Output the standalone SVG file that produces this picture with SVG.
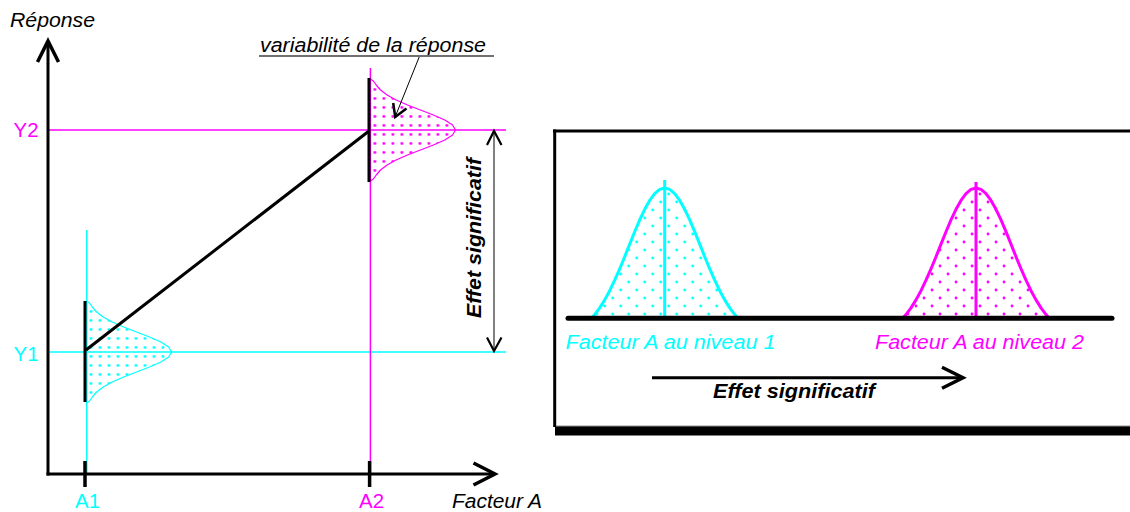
<svg xmlns="http://www.w3.org/2000/svg" width="1130" height="512" viewBox="0 0 1130 512">
<style>
  text { font-family: "Liberation Sans", Arial, sans-serif; font-size: 20.5px; }
  .it { font-style: italic; }
  .bi { font-style: italic; font-weight: bold; }
  .cy { fill: #00FFFF; }
  .mg { fill: #FF00FF; }
  .blk { fill: #000; }
  .thin { fill: none; stroke-width: 1.5; }
  .bar { stroke: #000; stroke-width: 3; fill: none; }
  .head { fill: none; stroke: #000; stroke-linecap: butt; stroke-linejoin: miter; }
</style>
<defs>
  <pattern id="dotsC" patternUnits="userSpaceOnUse" width="9" height="9">
    <circle cx="4.5" cy="4.5" r="1.4" fill="#00FFFF"/>
  </pattern>
  <pattern id="dotsM" patternUnits="userSpaceOnUse" width="9" height="9">
    <circle cx="4.5" cy="4.5" r="1.4" fill="#FF00FF"/>
  </pattern>
  <pattern id="dotsC2" patternUnits="userSpaceOnUse" width="16" height="16">
    <circle cx="4" cy="4" r="1.4" fill="#00FFFF"/>
    <circle cx="12" cy="12" r="1.4" fill="#00FFFF"/>
  </pattern>
  <pattern id="dotsM2" patternUnits="userSpaceOnUse" width="16" height="16">
    <circle cx="4" cy="4" r="1.4" fill="#FF00FF"/>
    <circle cx="12" cy="12" r="1.4" fill="#FF00FF"/>
  </pattern>
  <path id="bellH" d="M0,-51 L3,-49 L5.8,-45 L10.1,-40 L16.7,-35 L25.7,-30 L37.1,-25 L50,-20 L63,-15 L74.4,-10 L82.2,-5 L85,0 L82.2,5 L74.4,10 L63,15 L50,20 L37.1,25 L25.7,30 L16.7,35 L10.1,40 L5.8,45 L3,49 L0,51 Z"/>
  <path id="bellV" d="M-73,0 L-70,-3.4 L-65,-10.1 L-60,-18.1 L-55,-27.3 L-50,-37.8 L-45,-49.2 L-40,-61.3 L-35,-73.9 L-30,-86.3 L-25,-98.1 L-20,-108.7 L-15,-117.6 L-10,-124.4 L-5,-128.6 L0,-130 L5,-128.6 L10,-124.4 L15,-117.6 L20,-108.7 L25,-98.1 L30,-86.3 L35,-73.9 L40,-61.3 L45,-49.2 L50,-37.8 L55,-27.3 L60,-18.1 L65,-10.1 L70,-3.4 L73,0 Z"/>
</defs>

<!-- Left chart -->
<g id="guides">
  <line x1="48" y1="130" x2="506" y2="130" stroke="#FF00FF" class="thin"/>
  <line x1="48" y1="352" x2="506" y2="352" stroke="#00FFFF" class="thin"/>
  <line x1="86.8" y1="230" x2="86.8" y2="474" stroke="#00FFFF" class="thin"/>
  <line x1="370.4" y1="68" x2="370.4" y2="474" stroke="#FF00FF" class="thin"/>
</g>

<g id="dist-A1">
  <use href="#bellH" transform="translate(86.5,352)" fill="url(#dotsC)" stroke="#00FFFF" stroke-width="1.2" stroke-linejoin="round"/>
  <line x1="85" y1="301" x2="85" y2="402" class="bar"/>
</g>
<g id="dist-A2">
  <use href="#bellH" transform="translate(370.4,130)" fill="url(#dotsM)" stroke="#FF00FF" stroke-width="1.2" stroke-linejoin="round"/>
  <line x1="369" y1="78" x2="369" y2="182" class="bar"/>
</g>

<g id="axes">
  <line x1="48" y1="475.5" x2="48" y2="42" stroke="#000" stroke-width="3"/>
  <polyline points="37.5,62 48,41 58.5,62" class="head" stroke-width="3.5"/>
  <line x1="46.5" y1="474" x2="494" y2="474" stroke="#000" stroke-width="3"/>
  <polyline points="473.5,463 495,474 473.5,485" class="head" stroke-width="3.5"/>
  <line x1="85" y1="461" x2="85" y2="487" stroke="#000" stroke-width="3.5"/>
  <line x1="369.6" y1="461" x2="369.6" y2="487" stroke="#000" stroke-width="3.5"/>
  <text x="10" y="27" class="it blk" textLength="85" lengthAdjust="spacingAndGlyphs">Réponse</text>
  <text x="452" y="508" class="it blk" textLength="90" lengthAdjust="spacingAndGlyphs">Facteur A</text>
  <text x="13.5" y="137" class="mg">Y2</text>
  <text x="13.5" y="361" class="cy">Y1</text>
  <text x="75" y="508" class="cy">A1</text>
  <text x="359" y="508" class="mg">A2</text>
</g>

<g id="connectors">
  <line x1="86" y1="350" x2="369" y2="131" stroke="#000" stroke-width="3"/>
  <line x1="494" y1="133" x2="494" y2="349" stroke="#808080" stroke-width="2"/>
  <polyline points="487,145 494,131 501.5,145" class="head" stroke-width="2.2"/>
  <polyline points="487,337.5 494,351 501.5,337.5" class="head" stroke-width="2.2"/>
  <line x1="420" y1="55" x2="395.5" y2="116" stroke="#000" stroke-width="1"/>
  <polyline points="393.2,103 395.2,117 406.5,108.5" class="head" stroke-width="2.5"/>
</g>

<g id="label-variabilite">
  <text x="260" y="51.5" class="it blk" textLength="226" lengthAdjust="spacingAndGlyphs">variabilité de la réponse</text>
  <line x1="259" y1="56" x2="494" y2="56" stroke="#707070" stroke-width="2"/>
</g>

<g id="label-effet-vertical">
  <text transform="translate(481,238) rotate(-90)" text-anchor="middle" class="bi blk" textLength="160" lengthAdjust="spacingAndGlyphs">Effet significatif</text>
</g>

<!-- Right panel -->
<g id="panel">
  <rect x="555" y="426" width="575" height="9.5" fill="#000"/>
  <line x1="553" y1="131" x2="1130" y2="131" stroke="#000" stroke-width="3"/>
  <line x1="554.7" y1="129.5" x2="554.7" y2="427" stroke="#000" stroke-width="3"/>
  <line x1="556" y1="426" x2="1130" y2="426" stroke="#909090" stroke-width="1"/>
</g>

<g id="bell-niveau1">
  <use href="#bellV" transform="translate(664.7,318)" fill="url(#dotsC2)" stroke="#00FFFF" stroke-width="3" stroke-linejoin="round"/>
  <line x1="664.7" y1="180" x2="664.7" y2="318" stroke="#00FFFF" stroke-width="3"/>
  <text x="565.5" y="349" class="it cy" textLength="210" lengthAdjust="spacingAndGlyphs">Facteur A au niveau 1</text>
</g>
<g id="bell-niveau2">
  <use href="#bellV" transform="translate(976,318)" fill="url(#dotsM2)" stroke="#FF00FF" stroke-width="3" stroke-linejoin="round"/>
  <line x1="976" y1="182" x2="976" y2="318" stroke="#FF00FF" stroke-width="3"/>
  <text x="875" y="349" class="it mg" textLength="209" lengthAdjust="spacingAndGlyphs">Facteur A au niveau 2</text>
</g>

<g id="baseline">
  <line x1="568" y1="318.3" x2="1112" y2="318.3" stroke="#000" stroke-width="5" stroke-linecap="round"/>
</g>

<g id="effet-arrow">
  <line x1="652" y1="377.7" x2="962" y2="377.7" stroke="#000" stroke-width="3"/>
  <polyline points="942,367.3 963,377.7 942,388.3" class="head" stroke-width="3.5"/>
  <text x="713" y="398" class="bi blk" textLength="162" lengthAdjust="spacingAndGlyphs">Effet significatif</text>
</g>
</svg>
